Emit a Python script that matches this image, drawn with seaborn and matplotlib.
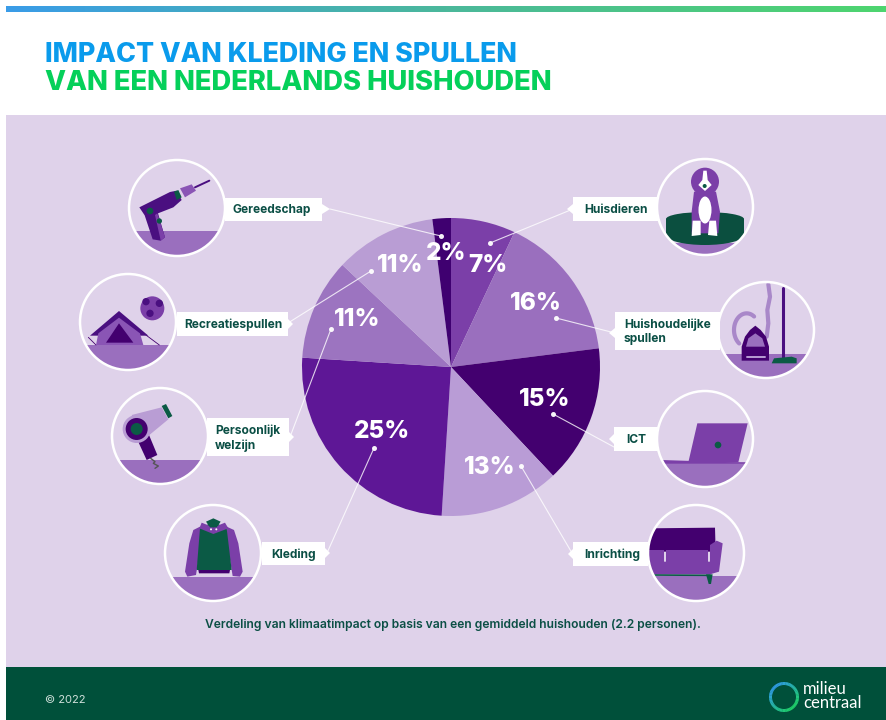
import numpy as np
import matplotlib
matplotlib.use("Agg")
import matplotlib.pyplot as plt
import seaborn as sns
from matplotlib.colors import LinearSegmentedColormap
from matplotlib.patches import Polygon, Circle, Ellipse, Rectangle, Wedge

# data, clockwise from 12 o'clock
categories = ["Huisdieren", "Huishoudelijke\nspullen", "ICT", "Inrichting",
              "Kleding", "Persoonlijk\nwelzijn", "Recreatiespullen", "Gereedschap"]
values = [7, 16, 15, 13, 25, 11, 11, 2]
slice_colors = ["#7b3fa8", "#9a6fbe", "#43006f", "#b99cd6",
                "#5e1796", "#9c74c0", "#b99dd4", "#3f0070"]

title_top = "IMPACT VAN KLEDING EN SPULLEN"
title_bottom = "VAN EEN NEDERLANDS HUISHOUDEN"
caption = "Verdeling van klimaatimpact op basis van een gemiddeld huishouden (2.2 personen)."

# colours
PANEL = "#dfd2ea"
FOOTER = "#00503a"
INK = "#0b4f45"
GREEN = "#0b5a45"
DARK = "#43006f"
MID = "#7b3fa8"
FLOOR = "#9a6fbe"
LIGHT = "#b99dd4"

sns.set_theme(style="white")
plt.rcParams["font.family"] = ["Inter", "DejaVu Sans"]
palette = sns.color_palette(slice_colors)

fig = plt.figure(figsize=(8.86, 7.2), dpi=100)
ax = fig.add_axes([0, 0, 1, 1])

# the pie. y axis gets flipped below, so counterclock here is clockwise on screen
pie_center = (451, 367)
ax.pie(values, colors=palette, center=pie_center, radius=149,
       startangle=-90, counterclock=True, frame=True,
       wedgeprops={"zorder": 3, "linewidth": 0, "edgecolor": "none"})

ax.set_xlim(0, 886)
ax.set_ylim(720, 0)
ax.set_aspect("equal")
ax.axis("off")

# background blocks
ax.add_patch(Rectangle((6, 115), 880, 552, color=PANEL, lw=0, zorder=0))
ax.add_patch(Rectangle((6, 667), 880, 53, color=FOOTER, lw=0, zorder=0))

bar_cmap = LinearSegmentedColormap.from_list("bar", ["#3a9ce8", "#4bb89b", "#4ed56f"])
ax.imshow(np.linspace(0, 1, 256).reshape(1, -1), cmap=bar_cmap, aspect="auto",
          extent=(6, 886, 12, 6), zorder=1)
ax.set_xlim(0, 886)
ax.set_ylim(720, 0)

ax.text(45, 55.5, title_top, color="#0a9bec", fontsize=19.3, fontweight="heavy", va="center")
ax.text(45, 83.5, title_bottom, color="#05d05a", fontsize=19.7, fontweight="heavy", va="center")

# percent labels
pct_pos = [(488, 265), (536, 303), (545, 400), (490, 468),
           (382, 431), (357, 319), (400, 265), (446, 253)]
for v, (x, y) in zip(values, pct_pos):
    ax.text(x, y, f"{v}%", color="white", fontsize=17.5, fontweight="heavy",
            ha="center", va="center", zorder=6)

# leader lines: (outer end, dot end)
leaders = [((573, 209), (490, 243)), ((615, 333), (556, 318)), ((614, 447), (553, 414)),
           ((572, 553), (521, 466)), ((327, 553), (374, 448)), ((290, 437), (331, 329)),
           ((288, 323), (371, 271)), ((330, 209), (441, 236))]
for a, b in leaders:
    ax.plot([a[0], b[0]], [a[1], b[1]], color="white", lw=0.8, alpha=0.8, zorder=5)
    ax.plot(b[0], b[1], "o", color="white", ms=2.6, alpha=0.9, zorder=5)


def circle_icon(cx, cy, floor_dy=23):
    """disc with white rim and floor, returns clip patch for the drawing inside"""
    clip = Circle((cx, cy), 48, transform=ax.transData)
    ax.add_patch(Circle((cx, cy), 48, fc=PANEL, ec="none", zorder=2))
    ax.add_patch(Rectangle((cx - 50, cy + floor_dy), 100, 40, color=FLOOR, lw=0, zorder=2,
                           clip_path=clip))
    return clip


def rim(cx, cy):
    ax.add_patch(Circle((cx, cy), 48, fc="none", ec="white", lw=1.8, zorder=4))


def poly(org, pts, color, clip, z=3):
    xy = [(org[0] + p[0] / 3, org[1] + p[1] / 3) for p in pts]
    ax.add_patch(Polygon(xy, closed=True, fc=color, ec="none", zorder=z, clip_path=clip))


def disc(org, x, y, r, color, clip, z=3):
    ax.add_patch(Circle((org[0] + x / 3, org[1] + y / 3), r / 3, fc=color, ec="none",
                        zorder=z, clip_path=clip))


def line(org, xs, ys, color, lw, clip, z=3):
    xs = [org[0] + x / 3 for x in xs]
    ys = [org[1] + y / 3 for y in ys]
    l, = ax.plot(xs, ys, color=color, lw=lw, zorder=z, solid_capstyle="round")
    l.set_clip_path(clip)


# drill
o = (70, 150)
c = circle_icon(177, 208)
poly(o, [(208, 172), (300, 126), (320, 122), (335, 150), (310, 172), (264, 190),
         (285, 262), (272, 272), (248, 268), (224, 196)], "#4a0f80", c)
poly(o, [(262, 190), (285, 262), (272, 272), (270, 262), (255, 195)], MID, c, 3.1)
poly(o, [(330, 115), (365, 103), (378, 122), (345, 142)], "#8a55b5", c)
line(o, [375, 418], [112, 92], "#4a0f80", 1.4, c)
disc(o, 240, 183, 10, GREEN, c, 3.2)
disc(o, 268, 213, 8, GREEN, c, 3.2)
poly(o, [(312, 125), (325, 120), (335, 142), (320, 150)], GREEN, c, 3.2)
rim(177, 208)

# tent and ball
c = circle_icon(128, 322)
disc(o, 247, 475, 36, MID, c)
disc(o, 228, 455, 11, "#4a0f80", c, 3.1)
disc(o, 268, 460, 11, "#4a0f80", c, 3.1)
disc(o, 240, 490, 11, "#4a0f80", c, 3.1)
line(o, [55, 78], [562, 585], DARK, 0.6, c)
line(o, [225, 268], [553, 585], DARK, 0.6, c)
poly(o, [(60, 557), (147, 483), (235, 557)], "#4a0f80", c)
poly(o, [(78, 585), (85, 550), (147, 503), (210, 550), (220, 585)], "#8a55b5", c, 3.1)
poly(o, [(108, 578), (147, 520), (190, 578)], DARK, c, 3.2)
rim(128, 322)

# hair dryer
o = (100, 380)
c = circle_icon(160, 436, 24)
line(o, [152, 165, 160, 175, 165], [235, 245, 250, 258, 265], "#555555", 1, c)
poly(o, [(110, 175), (145, 160), (172, 225), (140, 240)], DARK, c, 2.9)
poly(o, [(185, 82), (205, 118), (130, 180), (95, 105)], LIGHT, c)
disc(o, 110, 147, 42, LIGHT, c)
poly(o, [(185, 78), (198, 72), (217, 108), (205, 115)], GREEN, c)
disc(o, 110, 147, 33, DARK, c, 3.1)
disc(o, 110, 147, 18, GREEN, c, 3.2)
rim(160, 436)

# hoodie
c = circle_icon(213, 553, 24)
poly(o, [(300, 440), (280, 450), (268, 490), (255, 575), (262, 590), (288, 585),
         (295, 540), (305, 470)], MID, c)
poly(o, [(380, 440), (402, 450), (415, 490), (428, 575), (420, 590), (398, 588),
         (390, 540), (378, 470)], MID, c)
poly(o, [(300, 445), (340, 425), (380, 445), (395, 570), (290, 570)], GREEN, c, 3.1)
poly(o, [(305, 428), (340, 442), (375, 428), (385, 445), (340, 462), (298, 445)], MID, c, 3.2)
poly(o, [(318, 425), (340, 415), (362, 425), (350, 442), (330, 442)], GREEN, c, 3.3)
disc(o, 333, 448, 3, "white", c, 3.4)
disc(o, 349, 448, 3, "white", c, 3.4)
poly(o, [(295, 570), (390, 570), (388, 580), (297, 580)], DARK, c, 3.2)
rim(213, 553)

# dog on a rug
o = (570, 150)
c = circle_icon(705, 207, 36)
poly(o, [(288, 208), (522, 208), (522, 255), (288, 255)], "#0b4f3f", c)
ax.add_patch(Ellipse((705, 219), 78, 14, fc="#0b4f3f", ec="none", zorder=3, clip_path=c))
ax.add_patch(Ellipse((705, 235), 78, 20, fc="#0b4f3f", ec="none", zorder=3, clip_path=c))
poly(o, [(372, 125), (438, 125), (450, 185), (445, 250), (365, 250), (365, 185)], MID, c, 3.1)
disc(o, 405, 95, 42, MID, c, 3.2)
poly(o, [(400, 62), (410, 62), (413, 90), (425, 105), (405, 123), (385, 105), (397, 90)],
     "white", c, 3.3)
disc(o, 404, 108, 6, GREEN, c, 3.4)
ax.add_patch(Ellipse((705, 210), 13, 27, fc="white", ec="none", zorder=3.3))
poly(o, [(368, 212), (392, 212), (392, 255), (365, 258)], "white", c, 3.3)
poly(o, [(418, 212), (438, 212), (442, 258), (414, 255)], "white", c, 3.3)
rim(705, 207)

# vacuum and broom
c = circle_icon(766, 330, 24)
theta = np.linspace(0.3 * np.pi, 1.3 * np.pi, 30)
line(o, 530 + 38 * np.cos(theta), 540 - 50 * np.sin(theta), "#a988c9", 3, c)
line(o, [595, 600, 592, 595, 590], [403, 440, 480, 520, 560], "#a988c9", 3, c)
poly(o, [(515, 632), (515, 590), (525, 560), (540, 540), (556, 527), (572, 540), (588, 560),
         (597, 590), (597, 632)], DARK, c, 3.1)
poly(o, [(528, 590), (535, 565), (556, 550), (577, 565), (585, 590)], FLOOR, c, 3.2)
line(o, [530, 585], [622, 622], LIGHT, 1.4, c, 3.2)
line(o, [640, 640], [415, 625], "#4a0f80", 2.2, c)
poly(o, [(605, 640), (612, 625), (665, 620), (680, 625), (680, 640)], GREEN, c, 3.1)
rim(766, 330)

# laptop
o = (570, 385)
c = circle_icon(705, 439)
poly(o, [(382, 115), (533, 115), (505, 232), (355, 232)], MID, c)
poly(o, [(275, 225), (525, 233), (525, 236), (285, 236)], MID, c)
disc(o, 444, 180, 10, GREEN, c, 3.1)
rim(705, 439)

# sofa
c = circle_icon(696, 553)
poly(o, [(235, 430), (435, 428), (437, 500), (235, 500)], DARK, c)
poly(o, [(235, 495), (283, 495), (283, 530), (235, 530)], MID, c, 3.1)
poly(o, [(288, 495), (415, 495), (415, 530), (288, 530)], MID, c, 3.1)
poly(o, [(235, 530), (420, 530), (420, 480), (440, 467), (458, 475), (447, 560), (420, 568), (235, 568)], MID, c, 3.2)
line(o, [245, 420], [570, 571], GREEN, 1.2, c, 3.3)
poly(o, [(408, 568), (428, 568), (423, 597), (416, 597)], GREEN, c, 3.3)
rim(696, 553)

# label boxes: left, top, right, bottom, notch point
boxes = [(573, 197, 658, 221, (567, 209)), (615, 312, 720, 350, (609, 333)),
         (614, 427, 658, 451, (609, 439)), (573, 542, 648, 566, (568, 554)),
         (262, 542, 325, 565, (330, 553)), (207, 418, 289, 456, (294, 437)),
         (177, 312, 288, 336, (293, 324)), (225, 198, 322, 221, (330, 209))]
text_x = [584, 624, 626, 584, 271, 215, 184, 233]
for name, (x0, y0, x1, y1, tip), tx in zip(categories, boxes, text_x):
    ax.add_patch(Rectangle((x0, y0), x1 - x0, y1 - y0, color="white", lw=0, zorder=5))
    side = x0 if tip[0] < x0 else x1
    ax.add_patch(Polygon([(side, tip[1] - 5), tip, (side, tip[1] + 5)], color="white", lw=0, zorder=5))
    ax.text(tx, (y0 + y1) / 2 + 1, name, color=INK, fontsize=8.6, fontweight="bold",
            va="center", ha="left", linespacing=1.25, zorder=6)

ax.text(453, 625, caption, color=INK, fontsize=8.7, fontweight="semibold", ha="center", va="center")

# footer and logo ring
ax.text(45, 700, "© 2022", color="#cfe0da", fontsize=8, va="center")
ring_cmap = LinearSegmentedColormap.from_list("ring", ["#2f9be0", "#1fcf6a"])
for a in range(0, 360, 6):
    # top left is blue, bottom right is green
    t = (np.cos(np.radians(a - 45)) + 1) / 2
    ax.add_patch(Wedge((784, 697), 15, a, a + 7, width=3, color=ring_cmap(t), lw=0, zorder=3))
ax.text(803, 696, "milieu\ncentraal", color="white", fontsize=12, va="center",
        linespacing=0.9, family=["Lato", "DejaVu Sans"])

fig.savefig("out.png", dpi=100, facecolor="white")
